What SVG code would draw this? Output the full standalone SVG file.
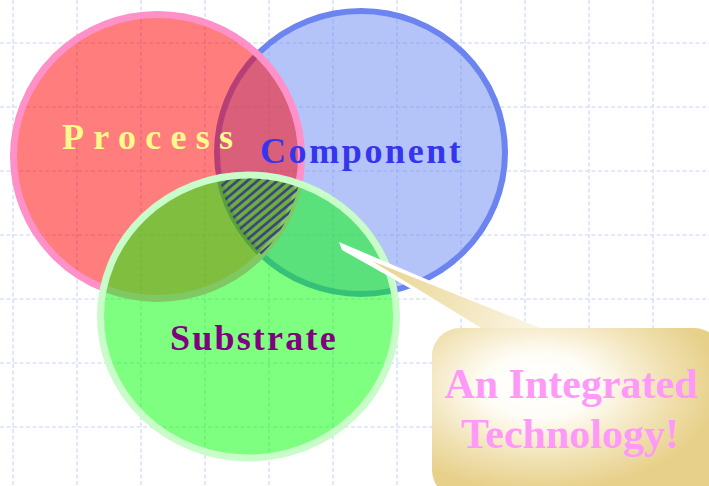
<svg xmlns="http://www.w3.org/2000/svg" width="709" height="486" viewBox="0 0 709 486">
  <style>
    .grid line { stroke: #dae1fb; stroke-width: 1.6; stroke-dasharray: 4 2.5; }
    .lbl { font-family: "Liberation Serif", "Times New Roman", serif; font-weight: bold; font-size: 36px; }
    .callout-text { font-family: "Liberation Serif", "Times New Roman", serif; font-weight: bold; font-size: 42px; fill: #ff99f8; text-anchor: middle; }
  </style>
  <defs>
    <pattern id="hatch" patternUnits="userSpaceOnUse" width="10" height="6.4" patternTransform="rotate(-40)">
      <line x1="0" y1="3.2" x2="10" y2="3.2" stroke="#3d4282" stroke-width="2.6"/>
    </pattern>
    <clipPath id="clipRed"><ellipse cx="157.5" cy="156.5" rx="144" ry="142"/></clipPath>
    <clipPath id="clipBlue"><ellipse cx="361" cy="152.5" rx="144" ry="141.5"/></clipPath>
    <clipPath id="clipGreen"><ellipse cx="248.5" cy="316.5" rx="145" ry="138"/></clipPath>
    <radialGradient id="calloutFill" cx="0.37" cy="0.34" r="0.62">
      <stop offset="0" stop-color="#ffffff"/>
      <stop offset="0.3" stop-color="#fffdf7"/>
      <stop offset="0.7" stop-color="#f1e2b4"/>
      <stop offset="1" stop-color="#e7d08a"/>
    </radialGradient>
    <linearGradient id="pointerFill" gradientUnits="userSpaceOnUse" x1="380" y1="262" x2="520" y2="335">
      <stop offset="0" stop-color="#e9d490"/>
      <stop offset="1" stop-color="#faf3de"/>
    </linearGradient>
  </defs>

  <rect width="709" height="486" fill="#ffffff"/>

  <!-- background grid -->
  <g class="grid">
    <line x1="13" y1="0" x2="13" y2="486"/>
    <line x1="77" y1="0" x2="77" y2="486"/>
    <line x1="141" y1="0" x2="141" y2="486"/>
    <line x1="205" y1="0" x2="205" y2="486"/>
    <line x1="269" y1="0" x2="269" y2="486"/>
    <line x1="333" y1="0" x2="333" y2="486"/>
    <line x1="397" y1="0" x2="397" y2="486"/>
    <line x1="461" y1="0" x2="461" y2="486"/>
    <line x1="525" y1="0" x2="525" y2="486"/>
    <line x1="589" y1="0" x2="589" y2="486"/>
    <line x1="653" y1="0" x2="653" y2="486"/>
    <line x1="0" y1="43" x2="709" y2="43"/>
    <line x1="0" y1="107" x2="709" y2="107"/>
    <line x1="0" y1="171" x2="709" y2="171"/>
    <line x1="0" y1="235" x2="709" y2="235"/>
    <line x1="0" y1="299" x2="709" y2="299"/>
    <line x1="0" y1="363" x2="709" y2="363"/>
    <line x1="0" y1="427" x2="709" y2="427"/>
  </g>

  <g id="node-component">
    <ellipse cx="361" cy="152.5" rx="144" ry="141.5" fill="#6987f1" fill-opacity="0.5" stroke="#6b84f0" stroke-width="6"/>
  </g>

  <g id="node-process">
    <ellipse cx="157.5" cy="156.5" rx="144" ry="142" fill="#ff0000" fill-opacity="0.51" stroke="#ff90c8" stroke-width="7"/>
  </g>

  <g id="node-substrate">
    <ellipse cx="248.5" cy="316.5" rx="148" ry="141.5" fill="#00ff00" fill-opacity="0.5" stroke="#c8fcc8" stroke-width="7"/>
  </g>

  <!-- hatched common region of all three circles -->
  <g id="node-intersection" clip-path="url(#clipRed)">
    <g clip-path="url(#clipBlue)">
      <rect x="200" y="160" width="120" height="100" fill="url(#hatch)" clip-path="url(#clipGreen)"/>
    </g>
  </g>

  <g id="labels">
    <text class="lbl" x="62" y="149" fill="#fffa8c" letter-spacing="9.3">Process</text>
    <text class="lbl" x="260" y="163" fill="#3535ee" letter-spacing="2.6">Component</text>
    <text class="lbl" x="170" y="350" fill="#800080" letter-spacing="2.2">Substrate</text>
  </g>

  <!-- callout pointer -->
  <g id="connectors">
    <polygon points="339,242 548,331 486,331 342,250" fill="#ffffff"/>
    <polygon points="372,261 548,331 486,331" fill="url(#pointerFill)"/>
  </g>

  <g id="node-callout">
    <rect x="432" y="328" width="290" height="170" rx="28" ry="28" fill="url(#calloutFill)"/>
    <text class="callout-text" x="571" y="398">An Integrated</text>
    <text class="callout-text" x="570" y="448">Technology!</text>
  </g>
</svg>
